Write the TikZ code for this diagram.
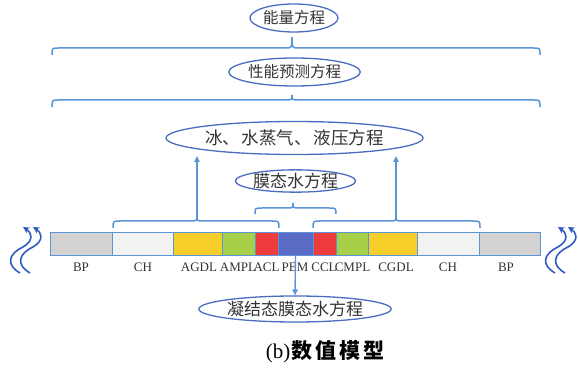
\documentclass[tikz,border=0pt]{standalone}
\usepackage{fontspec}
\setmainfont{Liberation Serif}
\newfontfamily\cjk{Noto Sans CJK SC}
\usetikzlibrary{shapes.geometric,arrows.meta}
\definecolor{ebl}{HTML}{4A6CC0}
\definecolor{bbl}{HTML}{5B95D8}
\definecolor{wbl}{HTML}{2F5CC0}
\definecolor{txt}{HTML}{333333}
\definecolor{cbp}{HTML}{D4D2D2}
\definecolor{cch}{HTML}{F2F2F2}
\definecolor{cgdl}{HTML}{F7CF2A}
\definecolor{cmpl}{HTML}{A6D048}
\definecolor{ccl}{HTML}{EE3B3B}
\definecolor{cpem}{HTML}{5A6CC6}
\newcommand\cbrace[6]{% x1, xm, x2, yend, yline, ytip
  \draw[br] (#1,#4) .. controls (#1,#5) .. (#1+7,#5) -- (#2-7,#5)
    .. controls (#2,#5) .. (#2,#6) .. controls (#2,#5) .. (#2+7,#5)
    -- (#3-7,#5) .. controls (#3,#5) .. (#3,#4);}
\newcommand\wavearrow[1]{%
  \draw[wave] (#1-3,273) .. controls (#1-17,265) and (#1-15,254) .. (#1,247)
    .. controls (#1+12,240) and (#1+8,232) .. (#1,227);}
\begin{document}
\begin{tikzpicture}[x=1pt,y=-1pt,
  eq/.style={ellipse,draw=ebl,line width=1.3pt,inner sep=0pt,text=txt},
  layer/.style={draw=bbl,line width=0.9pt,minimum height=23pt,inner sep=0pt},
  lab/.style={text=txt,font=\fontsize{13}{13}\selectfont,inner sep=0pt,anchor=base},
  br/.style={draw=bbl,line width=1.5pt},
  up/.style={draw=bbl,line width=1.4pt,-{Triangle[length=6pt,width=5.5pt]}},
  wave/.style={draw=wbl,line width=1.6pt,-{Stealth[length=6.5pt,width=6.5pt]}}]
\useasboundingbox (0,0) rectangle (578,371);

% equation ellipses
\node[eq,minimum width=88pt,minimum height=28pt,font=\cjk\fontsize{15.5}{16}\selectfont] (e1) at (294,18) {能量方程};
\node[eq,minimum width=119pt,minimum height=28pt,font=\cjk\fontsize{15.5}{16}\selectfont] (e2) at (294.5,72) {性能预测方程};
\node[eq,minimum width=257pt,minimum height=33pt,font=\cjk\fontsize{17.5}{18}\selectfont] (e3) at (294.5,138) {冰、\hspace{2pt}水蒸气、\hspace{2pt}液压方程};
\node[eq,minimum width=115pt,minimum height=22pt,font=\cjk\fontsize{17}{18}\selectfont] (e4) at (295.5,181) {膜态水方程};
\node[eq,minimum width=165pt,minimum height=26pt,font=\cjk\fontsize{17}{18}\selectfont] (e5) at (295,309) {凝结态膜态水方程};

% braces
\cbrace{52}{292}{540}{55}{48}{37}
\cbrace{52}{292}{540}{107}{100}{95}
\cbrace{255}{293}{336}{214}{208}{203}
\cbrace{113}{197}{279}{228}{221}{216}
\cbrace{313}{396}{480}{228}{221}{216}

% layers
\node[layer,fill=cbp, minimum width=62pt] (bp1)  at (81,243.5) {};
\node[layer,fill=cch, minimum width=61pt] (ch1)  at (142.5,243.5) {};
\node[layer,fill=cgdl,minimum width=49pt] (agdl) at (197.5,243.5) {};
\node[layer,fill=cmpl,minimum width=33pt] (ampl) at (238.5,243.5) {};
\node[layer,fill=ccl, minimum width=23pt] (acl)  at (266.5,243.5) {};
\node[layer,fill=cpem,minimum width=35pt] (pem)  at (295.5,243.5) {};
\node[layer,fill=ccl, minimum width=23pt] (ccl)  at (324.5,243.5) {};
\node[layer,fill=cmpl,minimum width=32pt] (cmpl) at (352,243.5) {};
\node[layer,fill=cgdl,minimum width=49pt] (cgdl) at (392.5,243.5) {};
\node[layer,fill=cch, minimum width=62pt] (ch2)  at (448,243.5) {};
\node[layer,fill=cbp, minimum width=61pt] (bp2)  at (509.5,243.5) {};

% layer labels
\node[lab] (lbp1)  at (81,271.5)  {BP};
\node[lab] (lch1)  at (143,271.5) {CH};
\node[lab] (lagdl) at (199,271.5) {AGDL};
\node[lab] (lampl) at (238,271.5) {AMPL};
\node[lab] (lacl)  at (266.5,271.5) {ACL};
\node[lab] (lpem)  at (295,271.5) {PEM};
\node[lab] (lccl)  at (324,271.5) {CCL};
\node[lab] (lcmpl) at (352.5,271.5) {CMPL};
\node[lab] (lcgdl) at (396,271.5) {CGDL};
\node[lab] (lch2)  at (448,271.5) {CH};
\node[lab] (lbp2)  at (506,271.5) {BP};

% arrows
\coordinate (lt) at (197,216);
\coordinate (lh) at (197,156);
\coordinate (rt) at (396,216);
\coordinate (rh) at (396,156);
\draw[up] (lt) -- (lh);
\draw[up] (rt) -- (rh);
\draw[up] (pem.south) -- (e5.north);

% wavy arrows
\wavearrow{23}
\wavearrow{33}
\wavearrow{558}
\wavearrow{568}

% caption
\node[inner sep=0pt,text=black] (cap) at (325,352)
  {\fontsize{21}{22}\selectfont(b)\hspace{1pt}\cjk\bfseries 数\hspace{3pt}值\hspace{3pt}模\hspace{3pt}型};
\end{tikzpicture}
\end{document}
